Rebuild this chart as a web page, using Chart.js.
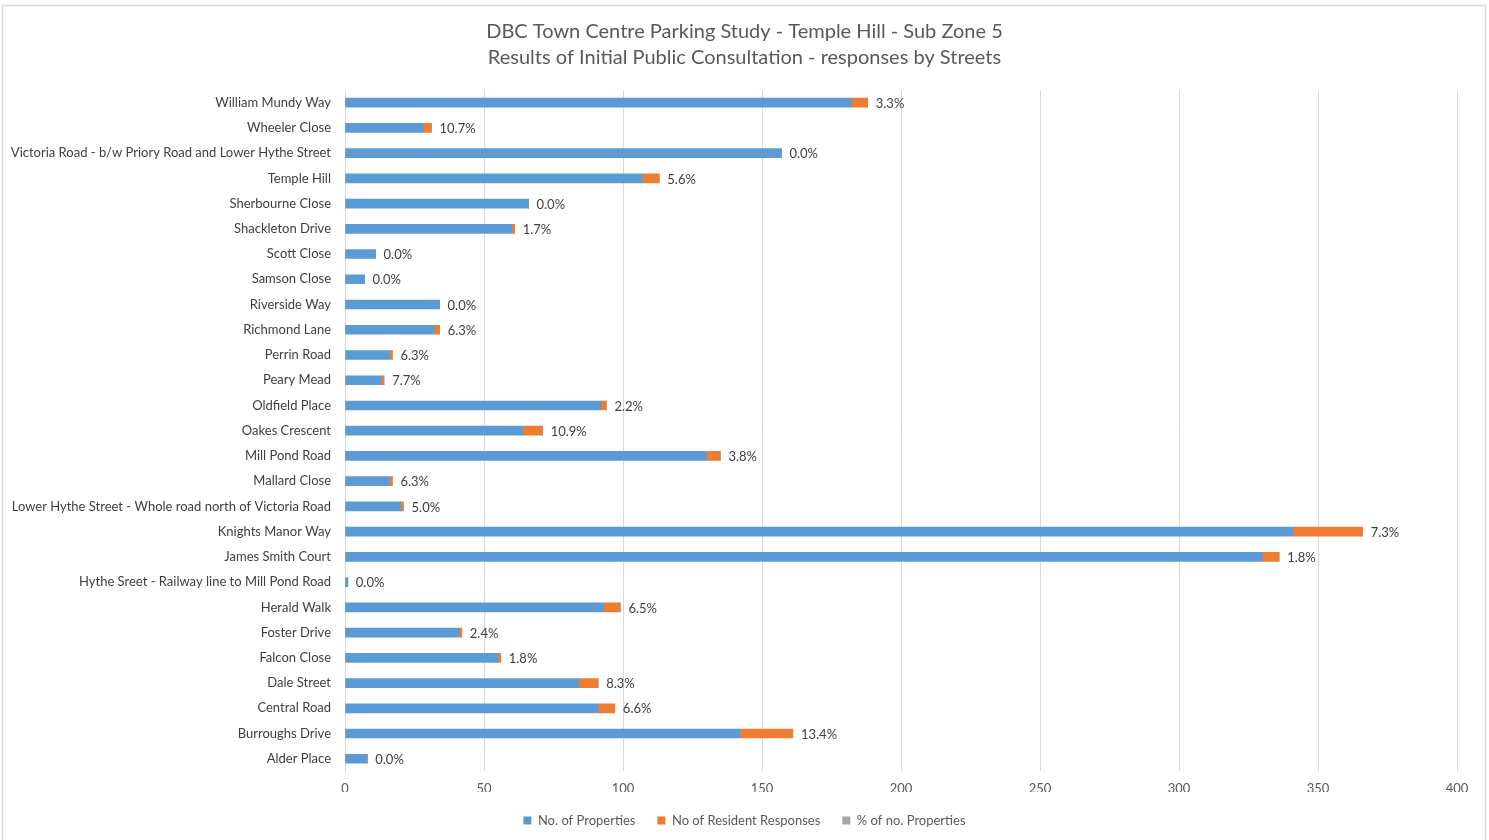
<!DOCTYPE html>
<html>
<head>
<meta charset="utf-8">
<script src="https://cdn.jsdelivr.net/npm/chart.js@4.4.1/dist/chart.umd.min.js"></script>
<style>
html,body{margin:0;padding:0;background:#fff;}
#wrap{width:1489px;height:840px;position:relative;}
</style>
</head>
<body>
<div id="wrap"><canvas id="c" width="1489" height="840"></canvas></div>
<script>
const titleLines = ['DBC Town Centre Parking Study - Temple Hill - Sub Zone 5', 'Results of Initial Public Consultation - responses by Streets'];
const streets = [
  'William Mundy Way', 'Wheeler Close', 'Victoria Road - b/w Priory Road and Lower Hythe Street',
  'Temple Hill', 'Sherbourne Close', 'Shackleton Drive', 'Scott Close', 'Samson Close',
  'Riverside Way', 'Richmond Lane', 'Perrin Road', 'Peary Mead', 'Oldfield Place',
  'Oakes Crescent', 'Mill Pond Road', 'Mallard Close', 'Lower Hythe Street - Whole road north of Victoria Road',
  'Knights Manor Way', 'James Smith Court', 'Hythe Sreet - Railway line to Mill Pond Road',
  'Herald Walk', 'Foster Drive', 'Falcon Close', 'Dale Street', 'Central Road',
  'Burroughs Drive', 'Alder Place'
];
const properties = [182, 28, 157, 107, 66, 60, 11, 7, 34, 32, 16, 13, 92, 64, 130, 16, 20, 341, 330, 1, 93, 41, 55, 84, 91, 142, 8];
const responses  = [6, 3, 0, 6, 0, 1, 0, 0, 0, 2, 1, 1, 2, 7, 5, 1, 1, 25, 6, 0, 6, 1, 1, 7, 6, 19, 0];
const pctLabels  = [3.3, 10.7, 0.0, 5.6, 0.0, 1.7, 0.0, 0.0, 0.0, 6.3, 6.3, 7.7, 2.2, 10.9, 3.8, 6.3, 5.0, 7.3, 1.8, 0.0, 6.5, 2.4, 1.8, 8.3, 6.6, 13.4, 0.0];
const xTicks = [0, 50, 100, 150, 200, 250, 300, 350, 400];

const FONT = 'Lato, "Liberation Sans", sans-serif';

const borderPlugin = {
  id: 'outerBorder',
  beforeDraw(chart) {
    const ctx = chart.ctx;
    ctx.save();
    ctx.strokeStyle = '#d9d9d9';
    ctx.lineWidth = 1.5;
    ctx.beginPath();
    ctx.moveTo(2.5, 840);
    ctx.lineTo(2.5, 5.5);
    ctx.lineTo(1485.5, 5.5);
    ctx.lineTo(1485.5, 840);
    ctx.stroke();
    ctx.restore();
  }
};

const labelPlugin = {
  id: 'endLabels',
  afterDatasetsDraw(chart) {
    const ctx = chart.ctx;
    const xs = chart.scales.x;
    const meta = chart.getDatasetMeta(2);
    ctx.save();
    ctx.font = '13px ' + FONT;
    ctx.fillStyle = '#404040';
    ctx.textAlign = 'left';
    ctx.textBaseline = 'middle';
    meta.data.forEach((bar, i) => {
      const total = properties[i] + responses[i] + pctLabels[i] / 100;
      const x = xs.getPixelForValue(total) + 8;
      ctx.fillText(pctLabels[i].toFixed(1) + '%', x, bar.y + 1);
    });
    ctx.restore();
  }
};

new Chart(document.getElementById('c'), {
  type: 'bar',
  data: {
    labels: streets,
    datasets: [
      { label: 'No. of Properties', data: properties, backgroundColor: '#5B9BD5', barThickness: 9 },
      { label: 'No of Resident Responses', data: responses, backgroundColor: '#ED7D31', barThickness: 9 },
      { label: '% of no. Properties', data: pctLabels.map(p => p / 100), backgroundColor: '#A5A5A5', barThickness: 9 }
    ]
  },
  options: {
    indexAxis: 'y',
    responsive: false,
    animation: false,
    layout: { padding: { top: 0, right: 0, bottom: 3, left: 0 } },
    plugins: {
      title: {
        display: true,
        text: titleLines,
        color: '#595959',
        font: { family: FONT, size: 20, weight: 'normal', lineHeight: 1.3 },
        padding: { top: 19, bottom: 19 }
      },
      legend: {
        position: 'bottom',
        labels: {
          color: '#595959',
          font: { family: FONT, size: 13 },
          boxWidth: 8, boxHeight: 8, padding: 22
        }
      },
      tooltip: { enabled: false }
    },
    scales: {
      x: {
        stacked: true,
        min: 0, max: 400,
        afterBuildTicks(scale) { scale.ticks = xTicks.map(v => ({ value: v })); },
        afterFit(scale) { scale.height -= 15; },
        ticks: { color: '#595959', font: { family: FONT, size: 13 }, padding: 10 },
        grid: { color: '#d9d9d9', drawTicks: false },
        border: { display: false }
      },
      y: {
        stacked: true,
        afterFit(scale) { scale.width = 345; },
        ticks: { color: '#404040', font: { family: FONT, size: 13 }, padding: 14, autoSkip: false },
        grid: { display: false, drawTicks: false },
        border: { display: true, color: '#d9d9d9', width: 1 }
      },
      yRight: {
        type: 'linear',
        axis: 'y',
        position: 'right',
        display: true,
        afterFit(scale) { scale.width = 32; },
        ticks: { display: false },
        grid: { display: false, drawTicks: false },
        border: { display: false }
      }
    }
  },
  plugins: [borderPlugin, labelPlugin]
});
</script>
</body>
</html>
